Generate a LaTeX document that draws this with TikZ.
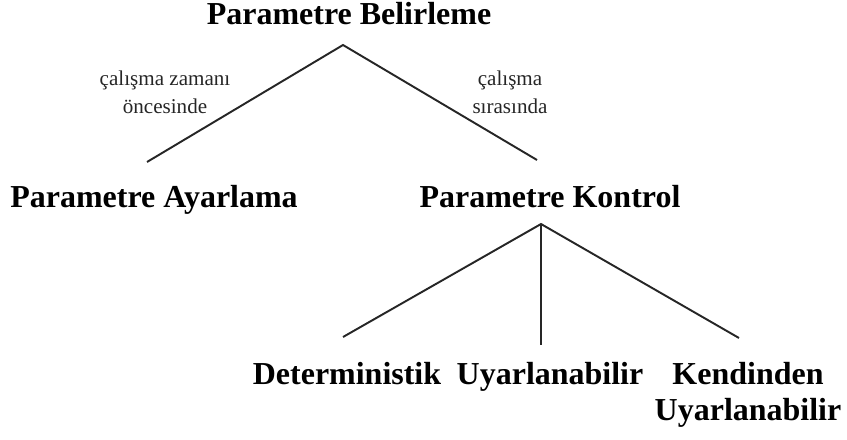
\documentclass[tikz,border=0pt]{standalone}
\usepackage{fontspec}
\setmainfont{Liberation Serif}
\usetikzlibrary{positioning}

\begin{document}
\begin{tikzpicture}[
	x=0.02cm, y=-0.02cm,
	term/.style={font=\bfseries\fontsize{18.2}{20.4}\selectfont, inner sep=0pt, align=center, anchor=base},
	note/.style={font=\fontsize{12}{15.4}\selectfont, text=black!85, inner sep=0pt, align=center, anchor=base},
	branch/.style={draw=black!85, line width=1.1pt},
]
	\useasboundingbox (0,0) rectangle (847,439);

	\node[term] (root) at (349,25) {Parametre Belirleme};
	\node[term] (tuning) at (154,207) {Parametre Ayarlama};
	\node[term] (control) at (550,207) {Parametre Kontrol};
	\node[term] (determ) at (347,384) {Deterministik};
	\node[term] (adapt) at (550,384) {Uyarlanabilir};
	\node[term] (selfadapt) at (748,420) {Kendinden\\Uyarlanabilir};

	\coordinate (rootfork) at (343,45);
	\coordinate (tuningend) at (147,162);
	\coordinate (controlend) at (537,160);
	\coordinate (controlfork) at (541,224);
	\coordinate (determend) at (343,337);
	\coordinate (adaptend) at (541,345);
	\coordinate (selfend) at (739,338);

	\draw[branch] (tuningend) -- (rootfork) -- (controlend);
	\draw[branch] (determend) -- (controlfork) -- (selfend);
	\draw[branch] (controlfork) -- (adaptend);

	\node[note] (before) at (165,113) {çalışma zamanı\\öncesinde};
	\node[note] (during) at (510,113) {çalışma\\sırasında};
\end{tikzpicture}
\end{document}
